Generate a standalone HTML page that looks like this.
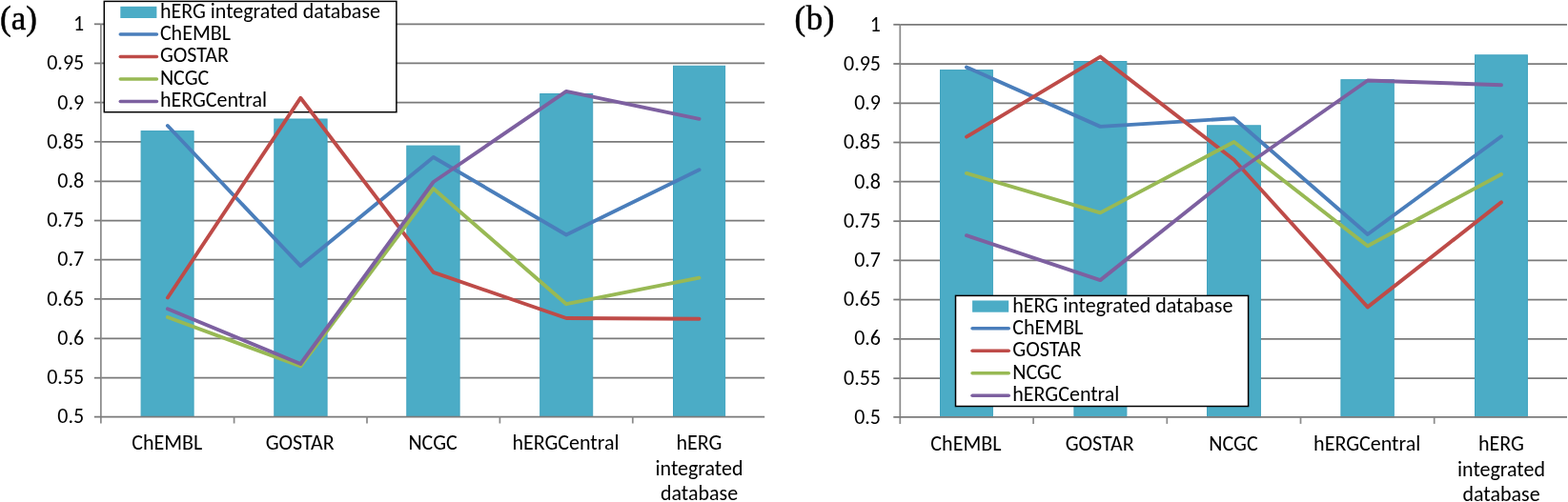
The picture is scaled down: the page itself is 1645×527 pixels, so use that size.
<!DOCTYPE html>
<html><head><meta charset="utf-8"><title>hERG chart</title>
<style>
html,body{margin:0;padding:0;background:#fff;width:1645px;height:527px;overflow:hidden}
svg{display:block}
text{font-family:Carlito,"Liberation Sans",sans-serif;font-size:22px;fill:#000;font-size-adjust:cap-height 0.6416}
text.pl{font-family:"Liberation Serif",serif;font-size:35px;font-size-adjust:none;stroke:#000;stroke-width:0.5px}
.gl{stroke:#7a7a7a;stroke-width:1.75}
.ax{stroke:#8c8c8c;stroke-width:1.75}
</style></head>
<body>
<svg width="1645" height="527" viewBox="0 0 1645 527">
<rect width="1645" height="527" fill="#fff"/>
<line x1="105.85" y1="25.30" x2="802.20" y2="25.30" class="gl"/>
<line x1="105.85" y1="66.45" x2="802.20" y2="66.45" class="gl"/>
<line x1="105.85" y1="107.60" x2="802.20" y2="107.60" class="gl"/>
<line x1="105.85" y1="148.80" x2="802.20" y2="148.80" class="gl"/>
<line x1="105.85" y1="190.40" x2="802.20" y2="190.40" class="gl"/>
<line x1="105.85" y1="231.55" x2="802.20" y2="231.55" class="gl"/>
<line x1="105.85" y1="272.70" x2="802.20" y2="272.70" class="gl"/>
<line x1="105.85" y1="313.90" x2="802.20" y2="313.90" class="gl"/>
<line x1="105.85" y1="355.35" x2="802.20" y2="355.35" class="gl"/>
<line x1="105.85" y1="396.70" x2="802.20" y2="396.70" class="gl"/>
<rect x="148.10" y="137.60" width="55.00" height="299.90" fill="#4BACC6" stroke="#41A3BF" stroke-width="1"/>
<rect x="287.80" y="125.00" width="55.30" height="312.50" fill="#4BACC6" stroke="#41A3BF" stroke-width="1"/>
<rect x="426.80" y="153.10" width="55.30" height="284.40" fill="#4BACC6" stroke="#41A3BF" stroke-width="1"/>
<rect x="566.70" y="98.50" width="55.00" height="339.00" fill="#4BACC6" stroke="#41A3BF" stroke-width="1"/>
<rect x="706.50" y="69.30" width="54.10" height="368.20" fill="#4BACC6" stroke="#41A3BF" stroke-width="1"/>
<line x1="105.85" y1="25.20" x2="105.85" y2="444.50" class="ax"/>
<line x1="98.85" y1="437.50" x2="802.20" y2="437.50" class="gl"/>
<line x1="98.85" y1="25.30" x2="105.85" y2="25.30" class="gl"/>
<line x1="98.85" y1="66.45" x2="105.85" y2="66.45" class="gl"/>
<line x1="98.85" y1="107.60" x2="105.85" y2="107.60" class="gl"/>
<line x1="98.85" y1="148.80" x2="105.85" y2="148.80" class="gl"/>
<line x1="98.85" y1="190.40" x2="105.85" y2="190.40" class="gl"/>
<line x1="98.85" y1="231.55" x2="105.85" y2="231.55" class="gl"/>
<line x1="98.85" y1="272.70" x2="105.85" y2="272.70" class="gl"/>
<line x1="98.85" y1="313.90" x2="105.85" y2="313.90" class="gl"/>
<line x1="98.85" y1="355.35" x2="105.85" y2="355.35" class="gl"/>
<line x1="98.85" y1="396.70" x2="105.85" y2="396.70" class="gl"/>
<line x1="245.60" y1="437.50" x2="245.60" y2="444.50" class="ax"/>
<line x1="385.00" y1="437.50" x2="385.00" y2="444.50" class="ax"/>
<line x1="524.40" y1="437.50" x2="524.40" y2="444.50" class="ax"/>
<line x1="663.80" y1="437.50" x2="663.80" y2="444.50" class="ax"/>
<text x="88.20" y="32.10" text-anchor="end" textLength="11.15" lengthAdjust="spacingAndGlyphs">1</text>
<text x="88.20" y="73.33" text-anchor="end" textLength="39.01" lengthAdjust="spacingAndGlyphs">0.95</text>
<text x="88.20" y="114.56" text-anchor="end" textLength="27.86" lengthAdjust="spacingAndGlyphs">0.9</text>
<text x="88.20" y="155.79" text-anchor="end" textLength="39.01" lengthAdjust="spacingAndGlyphs">0.85</text>
<text x="88.20" y="197.02" text-anchor="end" textLength="27.86" lengthAdjust="spacingAndGlyphs">0.8</text>
<text x="88.20" y="238.25" text-anchor="end" textLength="39.01" lengthAdjust="spacingAndGlyphs">0.75</text>
<text x="88.20" y="279.48" text-anchor="end" textLength="27.86" lengthAdjust="spacingAndGlyphs">0.7</text>
<text x="88.20" y="320.71" text-anchor="end" textLength="39.01" lengthAdjust="spacingAndGlyphs">0.65</text>
<text x="88.20" y="361.94" text-anchor="end" textLength="27.86" lengthAdjust="spacingAndGlyphs">0.6</text>
<text x="88.20" y="403.17" text-anchor="end" textLength="39.01" lengthAdjust="spacingAndGlyphs">0.55</text>
<text x="88.20" y="444.40" text-anchor="end" textLength="27.86" lengthAdjust="spacingAndGlyphs">0.5</text>
<text x="175.30" y="471.90" text-anchor="middle" textLength="74.06" lengthAdjust="spacingAndGlyphs">ChEMBL</text>
<text x="314.70" y="471.90" text-anchor="middle" textLength="72.08" lengthAdjust="spacingAndGlyphs">GOSTAR</text>
<text x="454.10" y="471.90" text-anchor="middle" textLength="51.35" lengthAdjust="spacingAndGlyphs">NCGC</text>
<text x="593.50" y="471.90" text-anchor="middle" textLength="112.13" lengthAdjust="spacingAndGlyphs">hERGCentral</text>
<text x="733.50" y="471.90" text-anchor="middle" textLength="47.92" lengthAdjust="spacingAndGlyphs">hERG</text>
<text x="733.50" y="498.60" text-anchor="middle" textLength="92.03" lengthAdjust="spacingAndGlyphs">integrated</text>
<text x="733.50" y="525.20" text-anchor="middle" textLength="81.18" lengthAdjust="spacingAndGlyphs">database</text>
<rect x="109.30" y="1.40" width="306.60" height="116.30" fill="#fff" stroke="#000" stroke-width="1.5"/>
<rect x="126.30" y="6.80" width="38.1" height="12.2" fill="#4BACC6"/>
<text x="167.90" y="19.00" text-anchor="start" textLength="231.08" lengthAdjust="spacingAndGlyphs">hERG integrated database</text>
<line x1="126.30" y1="36.00" x2="164.40" y2="36.00" stroke="#4A7EBB" stroke-width="3.6" stroke-linecap="round"/>
<text x="167.90" y="41.90" text-anchor="start" textLength="74.06" lengthAdjust="spacingAndGlyphs">ChEMBL</text>
<line x1="126.30" y1="59.50" x2="164.40" y2="59.50" stroke="#BE4B48" stroke-width="3.6" stroke-linecap="round"/>
<text x="167.90" y="65.40" text-anchor="start" textLength="72.08" lengthAdjust="spacingAndGlyphs">GOSTAR</text>
<line x1="126.30" y1="83.00" x2="164.40" y2="83.00" stroke="#98B954" stroke-width="3.6" stroke-linecap="round"/>
<text x="167.90" y="88.90" text-anchor="start" textLength="51.35" lengthAdjust="spacingAndGlyphs">NCGC</text>
<line x1="126.30" y1="106.50" x2="164.40" y2="106.50" stroke="#7D60A0" stroke-width="3.6" stroke-linecap="round"/>
<text x="167.90" y="112.40" text-anchor="start" textLength="112.13" lengthAdjust="spacingAndGlyphs">hERGCentral</text>
<polyline points="175.90,132.00 315.30,279.10 454.70,165.00 594.10,246.50 733.50,178.20" fill="none" stroke="#4A7EBB" stroke-width="3.9" stroke-linejoin="round" stroke-linecap="round"/>
<polyline points="175.90,312.50 315.30,102.80 454.70,285.90 594.10,334.00 733.50,334.80" fill="none" stroke="#BE4B48" stroke-width="3.9" stroke-linejoin="round" stroke-linecap="round"/>
<polyline points="175.90,333.00 315.30,384.50 454.70,198.00 594.10,319.20 733.50,291.70" fill="none" stroke="#98B954" stroke-width="3.9" stroke-linejoin="round" stroke-linecap="round"/>
<polyline points="175.90,324.20 315.30,382.00 454.70,191.00 594.10,95.90 733.50,124.80" fill="none" stroke="#7D60A0" stroke-width="3.9" stroke-linejoin="round" stroke-linecap="round"/>
<text x="0.00" y="30.80" class="pl" letter-spacing="0.0">(a)</text>
<line x1="944.30" y1="25.80" x2="1644.00" y2="25.80" class="gl"/>
<line x1="944.30" y1="67.00" x2="1644.00" y2="67.00" class="gl"/>
<line x1="944.30" y1="108.30" x2="1644.00" y2="108.30" class="gl"/>
<line x1="944.30" y1="149.50" x2="1644.00" y2="149.50" class="gl"/>
<line x1="944.30" y1="190.70" x2="1644.00" y2="190.70" class="gl"/>
<line x1="944.30" y1="232.20" x2="1644.00" y2="232.20" class="gl"/>
<line x1="944.30" y1="273.30" x2="1644.00" y2="273.30" class="gl"/>
<line x1="944.30" y1="314.50" x2="1644.00" y2="314.50" class="gl"/>
<line x1="944.30" y1="355.90" x2="1644.00" y2="355.90" class="gl"/>
<line x1="944.30" y1="397.20" x2="1644.00" y2="397.20" class="gl"/>
<rect x="986.50" y="73.60" width="54.90" height="364.30" fill="#4BACC6" stroke="#41A3BF" stroke-width="1"/>
<rect x="1126.90" y="64.50" width="55.00" height="373.40" fill="#4BACC6" stroke="#41A3BF" stroke-width="1"/>
<rect x="1266.50" y="131.80" width="55.90" height="306.10" fill="#4BACC6" stroke="#41A3BF" stroke-width="1"/>
<rect x="1406.90" y="83.70" width="55.40" height="354.20" fill="#4BACC6" stroke="#41A3BF" stroke-width="1"/>
<rect x="1547.50" y="57.80" width="54.90" height="380.10" fill="#4BACC6" stroke="#41A3BF" stroke-width="1"/>
<line x1="944.30" y1="25.80" x2="944.30" y2="444.90" class="ax"/>
<line x1="937.30" y1="437.90" x2="1644.00" y2="437.90" class="gl"/>
<line x1="937.30" y1="25.80" x2="944.30" y2="25.80" class="gl"/>
<line x1="937.30" y1="67.00" x2="944.30" y2="67.00" class="gl"/>
<line x1="937.30" y1="108.30" x2="944.30" y2="108.30" class="gl"/>
<line x1="937.30" y1="149.50" x2="944.30" y2="149.50" class="gl"/>
<line x1="937.30" y1="190.70" x2="944.30" y2="190.70" class="gl"/>
<line x1="937.30" y1="232.20" x2="944.30" y2="232.20" class="gl"/>
<line x1="937.30" y1="273.30" x2="944.30" y2="273.30" class="gl"/>
<line x1="937.30" y1="314.50" x2="944.30" y2="314.50" class="gl"/>
<line x1="937.30" y1="355.90" x2="944.30" y2="355.90" class="gl"/>
<line x1="937.30" y1="397.20" x2="944.30" y2="397.20" class="gl"/>
<line x1="1084.10" y1="437.90" x2="1084.10" y2="444.90" class="ax"/>
<line x1="1224.30" y1="437.90" x2="1224.30" y2="444.90" class="ax"/>
<line x1="1364.50" y1="437.90" x2="1364.50" y2="444.90" class="ax"/>
<line x1="1504.70" y1="437.90" x2="1504.70" y2="444.90" class="ax"/>
<text x="924.00" y="32.70" text-anchor="end" textLength="11.15" lengthAdjust="spacingAndGlyphs">1</text>
<text x="924.00" y="73.91" text-anchor="end" textLength="39.01" lengthAdjust="spacingAndGlyphs">0.95</text>
<text x="924.00" y="115.12" text-anchor="end" textLength="27.86" lengthAdjust="spacingAndGlyphs">0.9</text>
<text x="924.00" y="156.33" text-anchor="end" textLength="39.01" lengthAdjust="spacingAndGlyphs">0.85</text>
<text x="924.00" y="197.54" text-anchor="end" textLength="27.86" lengthAdjust="spacingAndGlyphs">0.8</text>
<text x="924.00" y="238.75" text-anchor="end" textLength="39.01" lengthAdjust="spacingAndGlyphs">0.75</text>
<text x="924.00" y="279.96" text-anchor="end" textLength="27.86" lengthAdjust="spacingAndGlyphs">0.7</text>
<text x="924.00" y="321.17" text-anchor="end" textLength="39.01" lengthAdjust="spacingAndGlyphs">0.65</text>
<text x="924.00" y="362.38" text-anchor="end" textLength="27.86" lengthAdjust="spacingAndGlyphs">0.6</text>
<text x="924.00" y="403.59" text-anchor="end" textLength="39.01" lengthAdjust="spacingAndGlyphs">0.55</text>
<text x="924.00" y="444.80" text-anchor="end" textLength="27.86" lengthAdjust="spacingAndGlyphs">0.5</text>
<text x="1013.40" y="473.10" text-anchor="middle" textLength="74.06" lengthAdjust="spacingAndGlyphs">ChEMBL</text>
<text x="1153.70" y="473.10" text-anchor="middle" textLength="72.08" lengthAdjust="spacingAndGlyphs">GOSTAR</text>
<text x="1294.00" y="473.10" text-anchor="middle" textLength="51.35" lengthAdjust="spacingAndGlyphs">NCGC</text>
<text x="1434.20" y="473.10" text-anchor="middle" textLength="112.13" lengthAdjust="spacingAndGlyphs">hERGCentral</text>
<text x="1575.00" y="473.10" text-anchor="middle" textLength="47.92" lengthAdjust="spacingAndGlyphs">hERG</text>
<text x="1575.00" y="499.80" text-anchor="middle" textLength="92.03" lengthAdjust="spacingAndGlyphs">integrated</text>
<text x="1575.00" y="526.40" text-anchor="middle" textLength="81.18" lengthAdjust="spacingAndGlyphs">database</text>
<rect x="1002.50" y="310.40" width="307.10" height="116.10" fill="#fff" stroke="#000" stroke-width="1.5"/>
<rect x="1020.10" y="315.50" width="38.1" height="12.2" fill="#4BACC6"/>
<text x="1062.30" y="327.70" text-anchor="start" textLength="231.08" lengthAdjust="spacingAndGlyphs">hERG integrated database</text>
<line x1="1020.10" y1="344.70" x2="1058.20" y2="344.70" stroke="#4A7EBB" stroke-width="3.6" stroke-linecap="round"/>
<text x="1062.30" y="350.60" text-anchor="start" textLength="74.06" lengthAdjust="spacingAndGlyphs">ChEMBL</text>
<line x1="1020.10" y1="368.20" x2="1058.20" y2="368.20" stroke="#BE4B48" stroke-width="3.6" stroke-linecap="round"/>
<text x="1062.30" y="374.10" text-anchor="start" textLength="72.08" lengthAdjust="spacingAndGlyphs">GOSTAR</text>
<line x1="1020.10" y1="391.70" x2="1058.20" y2="391.70" stroke="#98B954" stroke-width="3.6" stroke-linecap="round"/>
<text x="1062.30" y="397.60" text-anchor="start" textLength="51.35" lengthAdjust="spacingAndGlyphs">NCGC</text>
<line x1="1020.10" y1="415.20" x2="1058.20" y2="415.20" stroke="#7D60A0" stroke-width="3.6" stroke-linecap="round"/>
<text x="1062.30" y="421.10" text-anchor="start" textLength="112.13" lengthAdjust="spacingAndGlyphs">hERGCentral</text>
<polyline points="1014.00,70.60 1154.30,132.90 1294.60,124.20 1434.80,246.00 1575.00,143.30" fill="none" stroke="#4A7EBB" stroke-width="3.9" stroke-linejoin="round" stroke-linecap="round"/>
<polyline points="1014.00,143.60 1154.30,59.60 1294.60,167.70 1434.80,322.40 1575.00,212.40" fill="none" stroke="#BE4B48" stroke-width="3.9" stroke-linejoin="round" stroke-linecap="round"/>
<polyline points="1014.00,181.90 1154.30,223.40 1294.60,149.00 1434.80,258.20 1575.00,183.00" fill="none" stroke="#98B954" stroke-width="3.9" stroke-linejoin="round" stroke-linecap="round"/>
<polyline points="1014.00,247.20 1154.30,294.10 1294.60,182.50 1434.80,84.50 1575.00,89.20" fill="none" stroke="#7D60A0" stroke-width="3.9" stroke-linejoin="round" stroke-linecap="round"/>
<text x="833.40" y="30.90" class="pl" letter-spacing="0.6">(b)</text>
</svg>
</body></html>
